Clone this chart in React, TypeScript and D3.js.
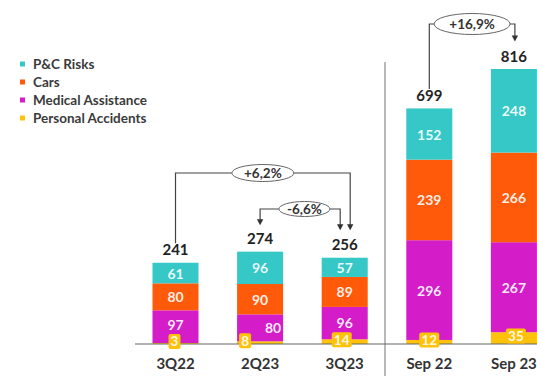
import React from 'react';
import * as d3 from 'd3';

const categories = ["3Q22", "2Q23", "3Q23", "Sep 22", "Sep 23"];
const pcRisks = [61, 96, 57, 152, 248];
const cars = [80, 90, 89, 239, 266];
const medical = [97, 80, 96, 296, 267];
const personal = [3, 8, 14, 12, 35];
const totals = [241, 274, 256, 699, 816];
const seriesNames = ["P&C Risks", "Cars", "Medical Assistance", "Personal Accidents"];
const seriesColors = ["#35C8C6", "#FF5A0A", "#D41CC8", "#FFC20A"];

const changes = [
  { from: 0, to: 2, label: "+6,2%", level: 173, rx: 31, ry: 8.5, fromArrow: false, toDx: 5.5 },
  { from: 2, to: 1, label: "-6,6%", level: 209, rx: 25.5, ry: 7.5, fromArrow: true, toDx: 0 },
  { from: 3, to: 4, label: "+16,9%", level: 24, rx: 38, ry: 10.5, fromArrow: false, toDx: 1 },
];

const W = 537;
const H = 376;
const FONT = "Lato, 'Open Sans', sans-serif";

export default function App() {
  const x = d3.scaleBand<string>().domain(categories).range([133.2, 556.2]).paddingInner(0.456).paddingOuter(0.228);
  const y = d3.scaleLinear().domain([0, 816]).range([344, 69]);

  const rows = categories.map((c, i) => ({
    cat: c,
    personal: personal[i],
    medical: medical[i],
    cars: cars[i],
    pc: pcRisks[i],
  }));
  const keys = ["personal", "medical", "cars", "pc"];
  const keyColor: Record<string, string> = {
    pc: seriesColors[0], cars: seriesColors[1], medical: seriesColors[2], personal: seriesColors[3],
  };
  const stacked = d3.stack<any>().keys(keys)(rows);

  const medDx = [0, 13, 0, 0, 0];
  const medDy = [-2, 0, -1, 0, 0];
  const persDx = [-1, -15, -3, 0, 2];

  const cx = (i: number) => (x(categories[i]) as number) + x.bandwidth() / 2;
  const labelBase = (i: number) => y(totals[i]) - 7.5;

  const arrow = (ax: number, ay: number) => `M${ax - 3.2},${ay - 6} L${ax + 3.2},${ay - 6} L${ax},${ay} Z`;

  const sepX = (cx(2) + cx(3)) / 2 - 2;

  return (
    <svg width={W} height={H} style={{ position: 'absolute', left: 0, top: 0, background: '#fff' }} fontFamily={FONT}>
      {/* legend */}
      {seriesNames.map((n, i) => (
        <g key={n} transform={`translate(20, ${64 + i * 18})`}>
          <rect x={0} y={-2.5} width={5} height={5} fill={seriesColors[i]} />
          <text x={13} y={0} dominantBaseline="central" fontSize={13.5} fontWeight="bold" fill="#3a3a3a">{n}</text>
        </g>
      ))}

      {/* separator */}
      <line x1={sepX} x2={sepX} y1={62} y2={H} stroke="#8a8a8a" strokeWidth={1.2} />

      {/* bars */}
      {stacked.map((s) => (
        <g key={s.key} fill={keyColor[s.key]}>
          {s.map((d, i) => (
            <rect key={i} x={x(categories[i])} width={x.bandwidth()} y={y(d[1])} height={y(d[0]) - y(d[1])} />
          ))}
        </g>
      ))}

      {/* axis */}
      <line x1={135} x2={W} y1={y(0)} y2={y(0)} stroke="#666" strokeWidth={1.2} />

      {/* segment labels */}
      {stacked.map((s) => s.map((d, i) => {
        const v = d[1] - d[0];
        const mid = (y(d[0]) + y(d[1])) / 2;
        if (s.key === 'personal') {
          const txt = String(v);
          const bw = txt.length * 8 + 4;
          const bc = Math.min(mid - 2, 342);
          const bx = cx(i) + persDx[i];
          return (
            <g key={s.key + i}>
              <rect x={bx - bw / 2} y={bc - 7.5} width={bw} height={15} rx={2} fill={seriesColors[3]} />
              <text x={bx} y={bc} textAnchor="middle" dominantBaseline="central" fontSize={13.5} fontWeight="bold" fill="#fff" fillOpacity={0.9}>{txt}</text>
            </g>
          );
        }
        const dx = s.key === 'medical' ? medDx[i] : 0;
        const dy = s.key === 'medical' ? medDy[i] : 0;
        return (
          <text key={s.key + i} x={cx(i) + dx} y={mid + dy} textAnchor="middle" dominantBaseline="central" fontSize={14} fontWeight="bold" fill="#fff" fillOpacity={0.92}>{v}</text>
        );
      }))}

      {/* totals */}
      {totals.map((t, i) => (
        <text key={i} x={cx(i)} y={labelBase(i)} textAnchor="middle" fontSize={15} fontWeight="bold" fill="#222">{t}</text>
      ))}

      {/* categories */}
      {categories.map((c, i) => (
        <text key={c} x={cx(i)} y={369} textAnchor="middle" fontSize={15} fontWeight="bold" fill="#333">{c}</text>
      ))}

      {/* change annotations */}
      {changes.map((a, k) => {
        const x1 = cx(a.from) + (a.fromArrow ? -4.5 : 0);
        const x2 = cx(a.to) + a.toDx;
        const ex = (cx(a.from) + cx(a.to) + (a.fromArrow ? 0 : a.toDx)) / 2 + (a.fromArrow ? 2 : 0);
        const lv = a.level;
        const left = Math.min(x1, x2);
        const right = Math.max(x1, x2);
        const leftIdx = x1 < x2 ? a.from : a.to;
        const rightIdx = x1 < x2 ? a.to : a.from;
        const leftIsArrow = x1 < x2 ? a.fromArrow : true;
        const rightIsArrow = x1 < x2 ? true : a.fromArrow;
        const leftEnd = leftIsArrow ? labelBase(leftIdx) - 19 : labelBase(leftIdx) - 12;
        const rightEnd = rightIsArrow ? labelBase(rightIdx) - 20 : labelBase(rightIdx) - 12;
        return (
          <g key={k}>
            <path d={`M${left},${leftEnd - (leftIsArrow ? 5 : 0)} L${left},${lv} L${ex - a.rx},${lv}`} fill="none" stroke="#444" strokeWidth={1.2} />
            <path d={`M${ex + a.rx},${lv} L${right},${lv} L${right},${rightEnd - (rightIsArrow ? 5 : 0)}`} fill="none" stroke="#444" strokeWidth={1.2} />
            {leftIsArrow && <path d={arrow(left, leftEnd)} fill="#333" />}
            {rightIsArrow && <path d={arrow(right, rightEnd)} fill="#333" />}
            <ellipse cx={ex} cy={lv} rx={a.rx} ry={a.ry} fill="#fff" stroke="#666" strokeWidth={1} />
            <text x={ex} y={lv} textAnchor="middle" dominantBaseline="central" fontSize={13.5} fontWeight="bold" fill="#333">{a.label}</text>
          </g>
        );
      })}
    </svg>
  );
}
